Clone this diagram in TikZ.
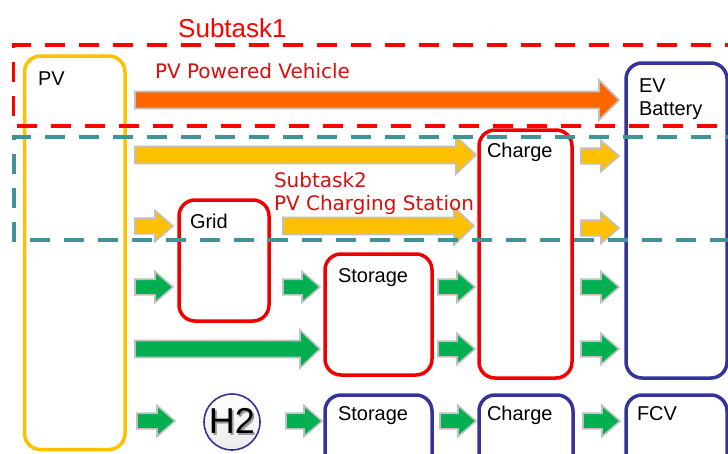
\documentclass[tikz,border=0pt]{standalone}
\usepackage{fontspec}
\setmainfont{Liberation Sans}
\newfontfamily\dvs{DejaVu Sans}
\usetikzlibrary{calc}
\definecolor{boxred}{RGB}{240,0,0}
\definecolor{navy}{RGB}{51,51,153}
\definecolor{pvyellow}{RGB}{255,192,0}
\definecolor{arrorange}{RGB}{255,102,0}
\definecolor{arryellow}{RGB}{255,192,0}
\definecolor{arrgreen}{RGB}{0,176,80}
\definecolor{dashteal}{RGB}{64,146,150}
\definecolor{dashred}{RGB}{255,0,0}
\definecolor{arrline}{RGB}{192,192,192}
\definecolor{lblred}{RGB}{215,15,15}
\tikzset{
  box/.style={draw=#1, line width=3.5pt, rounded corners=16pt, anchor=north west,
    inner sep=0pt, outer sep=0pt},
  lbl/.style={anchor=base west, inner sep=0pt, outer sep=0pt, font=\fontsize{20}{24}\selectfont},
  redlbl/.style={anchor=base west, inner sep=0pt, outer sep=0pt, text=lblred,
    font=\dvs\fontsize{20}{24}\selectfont},
  dashbox/.style={draw=#1, line width=3.5pt, dash pattern=on 20pt off 14pt},
}
% block arrow: colour, from node, to node, y, start gap, end gap
\newcommand\barrow[6]{%
  \path let \p1=($(#2.east|-0,#4)+(#5,0)$), \p2=($(#3.west|-0,#4)-(#6,0)$) in
   [fill=#1, draw=arrline, line width=1.6pt, line join=miter]
   (\x1,{\y1+\sh}) -- ({\x2-\hl},{\y1+\sh}) -- ({\x2-\hl},{\y1+\hh}) -- (\x2,\y1)
   -- ({\x2-\hl},{\y1-\hh}) -- ({\x2-\hl},{\y1-\sh}) -- (\x1,{\y1-\sh}) -- cycle;}
\newcommand\setsmall{\def\sh{7.8pt}\def\hh{15.5pt}\def\hl{18pt}}
\newcommand\setlong{\def\sh{8.5pt}\def\hh{19pt}\def\hl{20pt}}
\begin{document}
\begin{tikzpicture}[x=1pt,y=-1pt]
\useasboundingbox (0,0) rectangle (728,453);
\clip (0,0) rectangle (728,453);
\fill[white] (0,0) rectangle (728,453);

% boxes
\node[box=pvyellow, minimum width=100.5, minimum height=393.5] (pv) at (24.5,56) {};
\node[box=navy, minimum width=101, minimum height=315] (ev) at (626,63) {};
\node[box=boxred, minimum width=93, minimum height=248] (charge) at (479,130) {};
\node[box=boxred, minimum width=90, minimum height=121] (grid) at (179,200) {};
\node[box=boxred, minimum width=107, minimum height=121] (storage) at (325,254) {};
\node[box=navy, minimum width=107, minimum height=80] (storage2) at (325,395) {};
\node[box=navy, minimum width=94, minimum height=80] (charge2) at (479,395) {};
\node[box=navy, minimum width=101, minimum height=80] (fcv) at (626,395) {};
\node[circle, draw=navy, line width=1.6pt, minimum size=56pt, inner sep=0pt, outer sep=0pt,
  top color=white, bottom color=black!8, font=\fontsize{36}{40}\selectfont]
  (h2) at (232,422) {\rlap{\hspace{1.6pt}\raisebox{-1.6pt}{\color{black!40}H2}}H2};

% box labels
\node[lbl] (pvt) at (38,85) {PV};
\node[lbl] (evt) at (639,92) {EV};
\node[lbl] (evt2) at (639,115) {Battery};
\node[lbl] (charget) at (487,157) {Charge};
\node[lbl] (gridt) at (190,228) {Grid};
\node[lbl] (storaget) at (338,282) {Storage};
\node[lbl] (storage2t) at (338,420) {Storage};
\node[lbl] (charge2t) at (487,420) {Charge};
\node[lbl] (fcvt) at (637,420) {FCV};

% arrows
\setlong
\def\sh{8.5pt}\def\hh{20pt}
\barrow{arrorange}{pv}{ev}{100}{10}{7}
\setlong
\barrow{arryellow}{pv}{charge}{155}{10}{3}
\barrow{arryellow}{grid}{charge}{226}{14}{5}
\barrow{arrgreen}{pv}{storage}{349}{10}{5}
\setsmall
\barrow{arryellow}{charge}{ev}{156}{9}{7}
\barrow{arryellow}{pv}{grid}{226}{10}{6}
\barrow{arryellow}{charge}{ev}{228}{9}{7}
\barrow{arrgreen}{pv}{grid}{287}{10}{6}
\barrow{arrgreen}{grid}{storage}{287}{14}{5}
\barrow{arrgreen}{storage}{charge}{287}{6}{4}
\barrow{arrgreen}{charge}{ev}{287}{9}{7}
\barrow{arrgreen}{storage}{charge}{349}{6}{4}
\barrow{arrgreen}{charge}{ev}{349}{9}{7}
\barrow{arrgreen}{pv}{h2}{421}{12}{29}
\barrow{arrgreen}{h2}{storage2}{421}{26}{3}
\barrow{arrgreen}{storage2}{charge2}{421}{8}{3}
\barrow{arrgreen}{charge2}{fcv}{421}{10}{6}

% subtask frames
\draw[dashbox=dashred] (745,45) -- (13.5,45) -- (13.5,126) -- (745,126);
\draw[dashbox=dashteal] (745,137) -- (14,137) -- (14,240) -- (745,240);

% subtask labels
\node[anchor=base west, inner sep=0pt, text=dashred, font=\fontsize{26}{30}\selectfont]
  (sub1) at (178,37) {Subtask1};
\node[redlbl] (pvv) at (155,78) {PV Powered Vehicle};
\node[redlbl] (sub2) at (274,187) {Subtask2};
\node[redlbl] (pvcs) at (274,210) {PV Charging Station};
\end{tikzpicture}
\end{document}
